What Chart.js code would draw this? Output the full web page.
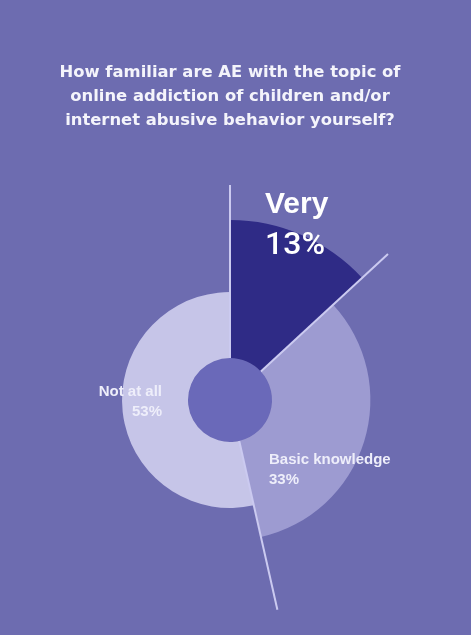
<!DOCTYPE html>
<html>
<head>
<meta charset="utf-8">
<script src="https://cdn.jsdelivr.net/npm/chart.js@4.4.1/dist/chart.umd.min.js"></script>
<style>
  html, body { margin: 0; padding: 0; background: #6d6cb0; }
  #wrap { width: 471px; height: 635px; position: relative; }
  canvas { display: block; }
</style>
</head>
<body>
<div id="wrap"><canvas id="c" width="471" height="635"></canvas></div>
<script>
// ---- data ----
const categories = ["Very", "Basic knowledge", "Not at all"];
const percentages = [13, 33, 53];
const titleLines = [
  "How familiar are AE with the topic of",
  "online addiction of children and/or",
  "internet abusive behavior yourself?"
];

// ---- style ----
const sliceColors = ["#2f2b86", "#9d9bd1", "#c6c5e8"];
const radiusScale = [1.0, 0.78, 0.60];
const labelStyles = [
  { dx: 35, dy1: -195, dy2: -154, align: "left", font1: "bold 30px 'Liberation Sans', Arial, sans-serif", font2: "500 32px Roboto, 'Liberation Sans', sans-serif", color: "#ffffff" },
  { dx: 39, dy1: 60, dy2: 80, align: "left", font1: "bold 15px 'Liberation Sans', Arial, sans-serif", font2: "bold 15px 'Liberation Sans', Arial, sans-serif", color: "#eeeefa" },
  { dx: -68, dy1: -8, dy2: 12, align: "right", font1: "bold 15px 'Liberation Sans', Arial, sans-serif", font2: "bold 15px 'Liberation Sans', Arial, sans-serif", color: "#eeeefa" }
];

const shapePlugin = {
  id: "shapePlugin",
  beforeDatasetsDraw(chart) {
    const meta = chart.getDatasetMeta(0);
    const ctrl = meta.controller;
    meta.data.forEach((arc, i) => {
      arc.outerRadius = ctrl.outerRadius * radiusScale[i];
    });
    const a = meta.data[0];
    const ctx = chart.ctx;
    ctx.save();
    ctx.fillStyle = "#6a69b9";
    ctx.beginPath();
    ctx.arc(a.x, a.y, a.innerRadius, 0, Math.PI * 2);
    ctx.fill();
    ctx.restore();
  },
  afterDatasetsDraw(chart) {
    const meta = chart.getDatasetMeta(0);
    const ctrl = meta.controller;
    const ctx = chart.ctx;
    const a0 = meta.data[0];
    const cx = a0.x, cy = a0.y;
    const lineLen = ctrl.outerRadius * 1.195;
    ctx.save();
    ctx.strokeStyle = "#cbcaf0";
    ctx.lineWidth = 2;
    meta.data.forEach((arc) => {
      const ang = arc.startAngle;
      ctx.beginPath();
      ctx.moveTo(cx + Math.cos(ang) * arc.innerRadius, cy + Math.sin(ang) * arc.innerRadius);
      ctx.lineTo(cx + Math.cos(ang) * lineLen, cy + Math.sin(ang) * lineLen);
      ctx.stroke();
    });
    // labels
    ctx.textBaseline = "middle";
    meta.data.forEach((arc, i) => {
      const s = labelStyles[i];
      ctx.fillStyle = s.color;
      ctx.textAlign = s.align;
      ctx.font = s.font1;
      ctx.fillText(categories[i], cx + s.dx, cy + s.dy1);
      ctx.font = s.font2;
      ctx.fillText(percentages[i] + "%", cx + s.dx, cy + s.dy2);
    });
    ctx.restore();
  }
};

new Chart(document.getElementById("c"), {
  type: "doughnut",
  data: {
    labels: categories,
    datasets: [{
      data: percentages,
      backgroundColor: sliceColors,
      borderWidth: 0
    }]
  },
  options: {
    responsive: false,
    animation: false,
    cutout: 42,
    layout: { padding: { top: 61, left: 50, right: 61, bottom: 55 } },
    plugins: {
      legend: { display: false },
      tooltip: { enabled: false },
      title: {
        display: true,
        text: titleLines,
        color: "#f4f4fb",
        font: { family: "'DejaVu Sans', sans-serif", size: 16.4, weight: "bold", lineHeight: 1.45 },
        padding: { top: 0, bottom: 87.7 }
      }
    }
  },
  plugins: [shapePlugin]
});
</script>
</body>
</html>
